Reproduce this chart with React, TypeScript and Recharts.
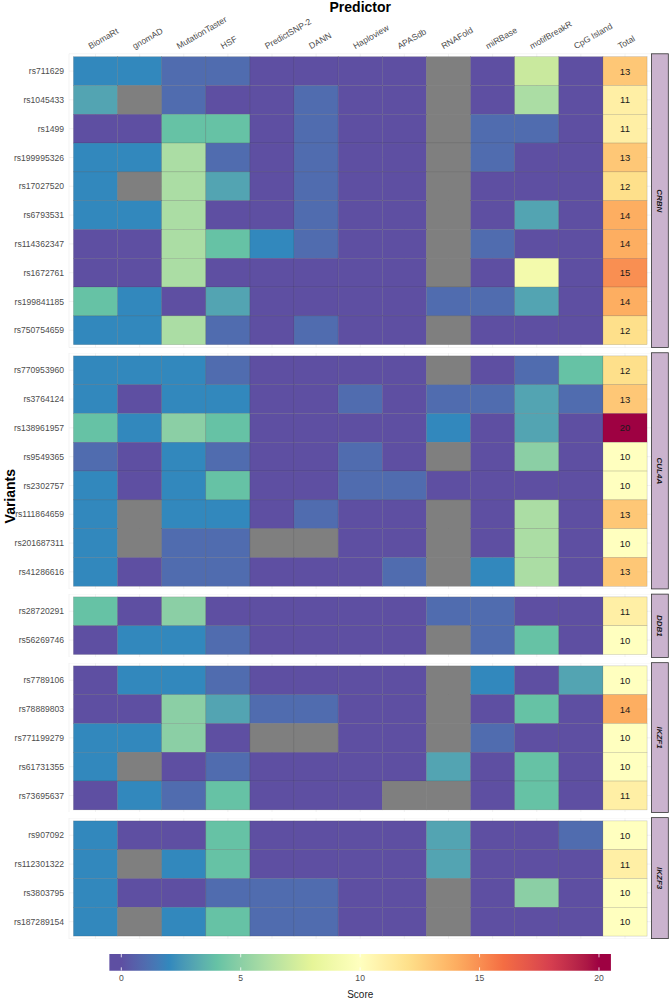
import React from 'react';
import { ScatterChart, Scatter, XAxis, YAxis, CartesianGrid, ReferenceArea } from 'recharts';

// ---------------- DATA ----------------
const predictors = ['BiomaRt', 'gnomAD', 'MutationTaster', 'HSF', 'PredictSNP-2', 'DANN', 'Haploview', 'APASdb', 'RNAFold', 'miRBase', 'motifBreakR', 'CpG Island', 'Total'];

const N = null;

const crbnVariants = ['rs711629', 'rs1045433', 'rs1499', 'rs199995326', 'rs17027520', 'rs6793531', 'rs114362347', 'rs1672761', 'rs199841185', 'rs750754659'];
const crbnScores = [
  [2, 2, 1, 1, 0, 0, 0, 0, N, 0, 7, 0],
  [3, N, 1, 0, 0, 1, 0, 0, N, 0, 6, 0],
  [0, 0, 4, 4, 0, 1, 0, 0, N, 1, 1, 0],
  [2, 2, 6, 1, 0, 1, 0, 0, N, 1, 0, 0],
  [2, N, 6, 3, 0, 1, 0, 0, N, 0, 0, 0],
  [2, 2, 6, 0, 0, 1, 0, 0, N, 0, 3, 0],
  [0, 0, 6, 4, 2, 1, 0, 0, N, 1, 0, 0],
  [0, 0, 6, 0, 0, 0, 0, 0, N, 0, 9, 0],
  [4, 2, 0, 3, 0, 0, 0, 0, 1, 1, 3, 0],
  [2, 2, 6, 1, 0, 1, 0, 0, N, 0, 0, 0],
];
const crbnTotals = [13, 11, 11, 13, 12, 14, 14, 15, 14, 12];

const cul4aVariants = ['rs770953960', 'rs3764124', 'rs138961957', 'rs9549365', 'rs2302757', 'rs111864659', 'rs201687311', 'rs41286616'];
const cul4aScores = [
  [2, 2, 2, 1, 0, 0, 0, 0, N, 0, 1, 4],
  [2, 0, 2, 2, 0, 0, 1, 0, 1, 1, 3, 1],
  [4, 2, 5, 4, 0, 0, 0, 0, 2, 0, 3, 0],
  [1, 0, 2, 1, 0, 0, 1, 0, N, 0, 5, 0],
  [2, 0, 2, 4, 0, 0, 1, 1, 0, 0, 0, 0],
  [2, N, 2, 2, 0, 1, 0, 0, N, 0, 6, 0],
  [2, N, 1, 1, N, N, 0, 0, N, 0, 6, 0],
  [2, 0, 1, 1, 0, 0, 0, 1, N, 2, 6, 0],
];
const cul4aTotals = [12, 13, 20, 10, 10, 13, 10, 13];

const ddb1Variants = ['rs28720291', 'rs56269746'];
const ddb1Scores = [
  [4, 0, 5, 0, 0, 0, 0, 0, 1, 1, 0, 0],
  [0, 2, 2, 1, 0, 0, 0, 0, N, 1, 4, 0],
];
const ddb1Totals = [11, 10];

const ikzf1Variants = ['rs7789106', 'rs78889803', 'rs771199279', 'rs61731355', 'rs73695637'];
const ikzf1Scores = [
  [0, 2, 2, 1, 0, 0, 0, 0, N, 2, 0, 3],
  [0, 0, 5, 3, 1, 1, 0, 0, N, 0, 4, 0],
  [2, 2, 5, 0, N, N, 0, 0, N, 1, 0, 0],
  [2, N, 0, 1, 0, 0, 0, 0, 3, 0, 4, 0],
  [0, 2, 1, 4, 0, 0, 0, N, N, 0, 4, 0],
];
const ikzf1Totals = [10, 14, 10, 10, 11];

const ikzf3Variants = ['rs907092', 'rs112301322', 'rs3803795', 'rs187289154'];
const ikzf3Scores = [
  [2, 0, 0, 4, 0, 0, 0, 0, 3, 0, 0, 1],
  [2, N, 2, 4, 0, 0, 0, 0, 3, 0, 0, 0],
  [2, 0, 0, 1, 1, 1, 0, 0, N, 0, 5, 0],
  [2, N, 2, 4, 1, 1, 0, 0, N, 0, 0, 0],
];
const ikzf3Totals = [10, 11, 10, 10];

const scoreTicks = [0, 5, 10, 15, 20];
const scoreLimits = [0, 20];
const spectralRev = ['#5e4fa2', '#3288bd', '#66c2a5', '#abdda4', '#e6f598', '#ffffbf', '#fee08b', '#fdae61', '#f46d43', '#d53e4f', '#9e0142'];

const facets = [
  { gene: 'CRBN', variants: crbnVariants, scores: crbnScores, totals: crbnTotals },
  { gene: 'CUL4A', variants: cul4aVariants, scores: cul4aScores, totals: cul4aTotals },
  { gene: 'DDB1', variants: ddb1Variants, scores: ddb1Scores, totals: ddb1Totals },
  { gene: 'IKZF1', variants: ikzf1Variants, scores: ikzf1Scores, totals: ikzf1Totals },
  { gene: 'IKZF3', variants: ikzf3Variants, scores: ikzf3Scores, totals: ikzf3Totals },
];

// ---------------- LAYOUT ----------------
const W = 669;
const H = 999;
const FONT = '"Liberation Sans", Arial, Helvetica, sans-serif';
const PLOT_L = 69;
const PLOT_R = 651.5;
const TOP = 53.8;
const ROW_H = 28.8;
const GAP = 5.2;
const EXP = 0.6;
const NCOL = predictors.length;
const CELL_W = (PLOT_R - PLOT_L) / (NCOL - 1 + 2 * EXP);
const STRIP_W = 16.8;
const CB_L = 109.3;
const CB_R = 611;
const CB_TOP = 954;
const CB_H = 16.7;
const NA_COLOR = '#7f7f7f';
const HEAD_ANGLE = 30;

// ---------------- COLOR (Lab interpolation like ggplot) ----------------
function hexToRgb(h: string) {
  return [parseInt(h.slice(1, 3), 16), parseInt(h.slice(3, 5), 16), parseInt(h.slice(5, 7), 16)];
}
function toLin(c: number) {
  c /= 255;
  return c <= 0.04045 ? c / 12.92 : Math.pow((c + 0.055) / 1.055, 2.4);
}
function fromLin(c: number) {
  const v = c <= 0.0031308 ? 12.92 * c : 1.055 * Math.pow(c, 1 / 2.4) - 0.055;
  return Math.round(Math.max(0, Math.min(1, v)) * 255);
}
function rgbToLab(rgb: number[]) {
  const R = toLin(rgb[0]), G = toLin(rgb[1]), B = toLin(rgb[2]);
  const X = (0.4124 * R + 0.3576 * G + 0.1805 * B) / 0.95047;
  const Y = 0.2126 * R + 0.7152 * G + 0.0722 * B;
  const Z = (0.0193 * R + 0.1192 * G + 0.9505 * B) / 1.08883;
  const f = (t: number) => (t > 0.008856 ? Math.cbrt(t) : 7.787 * t + 16 / 116);
  const fx = f(X), fy = f(Y), fz = f(Z);
  return [116 * fy - 16, 500 * (fx - fy), 200 * (fy - fz)];
}
function labToHex(lab: number[]) {
  const fy = (lab[0] + 16) / 116;
  const fx = fy + lab[1] / 500;
  const fz = fy - lab[2] / 200;
  const inv = (t: number) => (t * t * t > 0.008856 ? t * t * t : (t - 16 / 116) / 7.787);
  const X = inv(fx) * 0.95047, Y = inv(fy), Z = inv(fz) * 1.08883;
  const R = 3.2406 * X - 1.5372 * Y - 0.4986 * Z;
  const G = -0.9689 * X + 1.8758 * Y + 0.0415 * Z;
  const B = 0.0557 * X - 0.204 * Y + 1.057 * Z;
  const hx = (n: number) => n.toString(16).padStart(2, '0');
  return '#' + hx(fromLin(R)) + hx(fromLin(G)) + hx(fromLin(B));
}
const labStops = spectralRev.map((c) => rgbToLab(hexToRgb(c)));

function scoreColor(v: number | null) {
  if (v === null || v === undefined) return NA_COLOR;
  const t = (Math.max(scoreLimits[0], Math.min(scoreLimits[1], v)) - scoreLimits[0]) / (scoreLimits[1] - scoreLimits[0]);
  const p = t * (labStops.length - 1);
  const i = Math.min(Math.floor(p), labStops.length - 2);
  const f = p - i;
  const a = labStops[i], b = labStops[i + 1];
  return labToHex([a[0] + (b[0] - a[0]) * f, a[1] + (b[1] - a[1]) * f, a[2] + (b[2] - a[2]) * f]);
}

// ---------------- RENDER PIECES ----------------
const renderCell = (props: any) => {
  const { cx, cy, payload } = props;
  if (cx == null || cy == null) return null;
  return (
    <g>
      <rect
        x={cx - CELL_W / 2}
        y={cy - ROW_H / 2}
        width={CELL_W}
        height={ROW_H}
        fill={scoreColor(payload.value)}
        stroke="rgba(40,40,40,0.28)"
        strokeWidth={0.5}
      />
      {payload.total ? (
        <text x={cx} y={cy} textAnchor="middle" dominantBaseline="central" fontSize={9.5} fill="#1a1a1a" fontFamily={FONT}>
          {payload.value}
        </text>
      ) : null}
    </g>
  );
};

const ColTick = (props: any) => {
  const { x, y, payload } = props;
  const tx = x - 5;
  return (
    <g transform={`translate(${tx}, ${y})`}>
      <text x={0} y={0} transform={`rotate(${-HEAD_ANGLE})`} textAnchor="start" fontSize={8.6} fill="#4d4d4d" fontFamily={FONT}>
        {predictors[payload.value]}
      </text>
    </g>
  );
};

const colTicks = predictors.map((_, i) => i);

function Facet({ facet, top, showHeader }: any) {
  const n = facet.variants.length;
  const panelH = (n - 1 + 2 * EXP) * ROW_H;
  const headerH = showHeader ? TOP : 0;
  const cells: any[] = [];
  facet.variants.forEach((_: string, r: number) => {
    facet.scores[r].forEach((s: number | null, c: number) => cells.push({ col: c, row: r, value: s, total: false }));
    cells.push({ col: NCOL - 1, row: r, value: facet.totals[r], total: true });
  });
  const rowTicks = facet.variants.map((_: string, i: number) => i);
  return (
    <div style={{ position: 'absolute', left: 0, top: top - headerH }}>
      <ScatterChart width={W} height={panelH + headerH} margin={{ top: 0, right: W - PLOT_R, bottom: 0, left: 0 }}>
        <CartesianGrid stroke="#ebebeb" strokeWidth={0.6} />
        <XAxis
          type="number"
          dataKey="col"
          domain={[-EXP, NCOL - 1 + EXP]}
          ticks={colTicks}
          interval={0}
          orientation="top"
          hide={!showHeader}
          height={headerH || 1}
          axisLine={false}
          tickLine={false}
          tickSize={0}
          tickMargin={4.5}
          tick={<ColTick />}
          allowDataOverflow
        />
        <YAxis
          type="number"
          dataKey="row"
          domain={[-EXP, n - 1 + EXP]}
          reversed
          ticks={rowTicks}
          interval={0}
          width={PLOT_L}
          axisLine={false}
          tickLine={false}
          tickSize={3}
          tickMargin={2}
          tickFormatter={(i: number) => facet.variants[i]}
          tick={{ fontSize: 8.6, fill: '#4d4d4d', fontFamily: FONT }}
          allowDataOverflow
        />
        <Scatter data={cells} isAnimationActive={false} shape={renderCell} />
      </ScatterChart>
    </div>
  );
}

const tickMark = (props: any) => {
  const { cx, cy } = props;
  if (cx == null || cy == null) return null;
  const t = cy - CB_H / 2;
  const b = cy + CB_H / 2;
  return (
    <g>
      <line x1={cx} x2={cx} y1={t} y2={t + CB_H / 5} stroke="#ffffff" strokeWidth={0.8} />
      <line x1={cx} x2={cx} y1={b} y2={b - CB_H / 5} stroke="#ffffff" strokeWidth={0.8} />
    </g>
  );
};

function ColorBar() {
  const lo = -0.5, hi = 20.5;
  const stops: any[] = [];
  for (let v = scoreLimits[0]; v <= scoreLimits[1]; v += 0.5) {
    stops.push(<stop key={v} offset={`${((v - lo) / (hi - lo)) * 100}%`} stopColor={scoreColor(v)} />);
  }
  const tickData = scoreTicks.map((v) => ({ x: v, y: 0.5 }));
  return (
    <div style={{ position: 'absolute', left: 0, top: CB_TOP }}>
      <ScatterChart width={W} height={CB_H + 26} margin={{ top: 0, right: W - CB_R, bottom: 0, left: CB_L }}>
        <defs>
          <linearGradient id="scoreGrad" x1="0" y1="0" x2="1" y2="0">
            {stops}
          </linearGradient>
        </defs>
        <XAxis
          type="number"
          dataKey="x"
          domain={[lo, hi]}
          ticks={scoreTicks}
          interval={0}
          height={26}
          axisLine={false}
          tickLine={false}
          tickSize={2}
          tickMargin={2}
          tick={{ fontSize: 8.6, fill: '#4d4d4d', fontFamily: FONT }}
          allowDataOverflow
        />
        <YAxis type="number" dataKey="y" domain={[0, 1]} hide allowDataOverflow />
        <ReferenceArea x1={lo} x2={hi} y1={0} y2={1} fill="url(#scoreGrad)" fillOpacity={1} stroke="none" ifOverflow="visible" />
        <Scatter data={tickData} isAnimationActive={false} shape={tickMark} />
      </ScatterChart>
    </div>
  );
}

export default function App() {
  const tops: number[] = [];
  let y = TOP;
  facets.forEach((f) => {
    tops.push(y);
    y += (f.variants.length - 1 + 2 * EXP) * ROW_H + GAP;
  });
  return (
    <div style={{ position: 'absolute', left: 0, top: 0, width: W, height: H, overflow: 'hidden', background: '#ffffff', fontFamily: FONT }}>
      {facets.map((f, k) => (
        <Facet key={f.gene} facet={f} top={tops[k]} showHeader={k === 0} />
      ))}
      <ColorBar />
      <svg width={W} height={H} style={{ position: 'absolute', left: 0, top: 0, pointerEvents: 'none' }}>
        <text x={(PLOT_L + PLOT_R) / 2} y={11.5} textAnchor="middle" fontSize={14} fontWeight="bold" fill="#000" fontFamily={FONT}>
          Predictor
        </text>
        <text transform={`translate(15, ${(TOP + y - GAP) / 2}) rotate(-90)`} textAnchor="middle" fontSize={14} fontWeight="bold" fill="#000" fontFamily={FONT}>
          Variants
        </text>
        {facets.map((f, k) => {
          const h = (f.variants.length - 1 + 2 * EXP) * ROW_H;
          const cx = PLOT_R + STRIP_W / 2;
          const cy = tops[k] + h / 2;
          return (
            <g key={f.gene}>
              <rect x={PLOT_R} y={tops[k]} width={STRIP_W} height={h} fill="#cab3ce" stroke="#333333" strokeWidth={0.8} />
              <text
                transform={`translate(${cx}, ${cy}) rotate(90)`}
                textAnchor="middle"
                dominantBaseline="central"
                fontSize={8}
                fontStyle="italic"
                fontWeight="bold"
                fill="#1a1a1a"
                fontFamily={FONT}
              >
                {f.gene}
              </text>
            </g>
          );
        })}
        <text x={(PLOT_L + PLOT_R) / 2} y={997.5} textAnchor="middle" fontSize={10} fill="#1a1a1a" fontFamily={FONT}>
          Score
        </text>
      </svg>
    </div>
  );
}
